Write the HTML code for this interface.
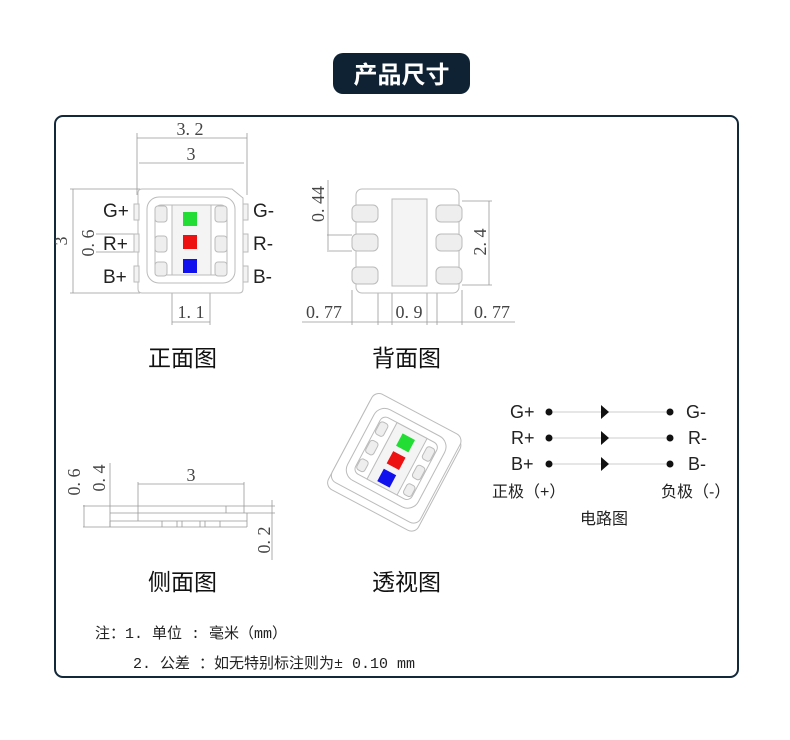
<!DOCTYPE html>
<html><head><meta charset="utf-8"><style>
body{margin:0;background:#fff;width:790px;height:740px;overflow:hidden}
svg{display:block}
.s{font-family:"Liberation Sans","Noto Sans CJK SC",sans-serif}
.m{font-family:"Liberation Serif","Noto Serif CJK SC",serif;fill:#444}
</style></head><body>
<svg width="790" height="740" viewBox="0 0 790 740" xmlns="http://www.w3.org/2000/svg">
<rect x="333" y="53" width="137" height="41" rx="10" fill="#0e2233"/>
<text x="401.5" y="83" text-anchor="middle" class="s" font-size="24" fill="#fff" font-weight="bold">产品尺寸</text>
<rect x="55" y="116" width="683" height="561" rx="8" fill="#fff" stroke="#13293a" stroke-width="2"/>

<g stroke="#999" stroke-width="0.8" fill="none">
<line x1="137" y1="138" x2="247" y2="138"/><line x1="139" y1="163" x2="244" y2="163"/>
<line x1="137" y1="133" x2="137" y2="195"/><line x1="247" y1="133" x2="247" y2="195"/>
<line x1="73" y1="189" x2="73" y2="293"/><line x1="70" y1="189" x2="140" y2="189"/><line x1="70" y1="293" x2="140" y2="293"/>
<line x1="96" y1="234" x2="140" y2="234"/><line x1="96" y1="252" x2="140" y2="252"/>
<line x1="172" y1="285" x2="172" y2="325"/><line x1="210" y1="285" x2="210" y2="325"/><line x1="172" y1="322" x2="210" y2="322"/>
</g>
<g stroke="#bbb" stroke-width="1" fill="#fff">
<path d="M138 193 Q138 189 142 189 L232 189 L243 198 L243 289 Q243 293 239 293 L142 293 Q138 293 138 289Z"/>
<rect x="147" y="197" width="88" height="86" rx="12"/>
<rect x="155" y="205" width="72" height="70" rx="6"/>
<rect x="172" y="205" width="39" height="70" fill="#f4f4f4"/>
<rect x="155" y="206" width="12" height="16" rx="3" fill="#eee"/><rect x="155" y="236" width="12" height="16" rx="3" fill="#eee"/><rect x="155" y="262" width="12" height="14" rx="3" fill="#eee"/>
<rect x="215" y="206" width="12" height="16" rx="3" fill="#eee"/><rect x="215" y="236" width="12" height="16" rx="3" fill="#eee"/><rect x="215" y="262" width="12" height="14" rx="3" fill="#eee"/>
<rect x="134" y="204" width="5" height="16" fill="#f3f3f3"/><rect x="134" y="234" width="5" height="18" fill="#f3f3f3"/><rect x="134" y="266" width="5" height="16" fill="#f3f3f3"/>
<rect x="243" y="204" width="5" height="16" fill="#f3f3f3"/><rect x="243" y="234" width="5" height="18" fill="#f3f3f3"/><rect x="243" y="266" width="5" height="16" fill="#f3f3f3"/>
</g>
<rect x="183" y="212" width="14" height="14" fill="#22dd33"/>
<rect x="183" y="235" width="14" height="14" fill="#ee1111"/>
<rect x="183" y="259" width="14" height="14" fill="#1111ee"/>
<g class="s" font-size="19" fill="#222">
<text x="103" y="217">G+</text><text x="103" y="250">R+</text><text x="103" y="283">B+</text>
<text x="253" y="217">G-</text><text x="253" y="250">R-</text><text x="253" y="283">B-</text>
</g>
<g class="m" font-size="18">
<text x="190" y="135" text-anchor="middle">3. 2</text>
<text x="191" y="160" text-anchor="middle">3</text>
<text x="191" y="318" text-anchor="middle">1. 1</text>
<text transform="translate(67,241) rotate(-90)" text-anchor="middle">3</text>
<text transform="translate(94,243) rotate(-90)" text-anchor="middle">0. 6</text>
</g>

<g stroke="#999" stroke-width="0.8" fill="none">
<line x1="327" y1="235" x2="352" y2="235"/><line x1="327" y1="251" x2="352" y2="251"/><line x1="328" y1="180" x2="328" y2="250"/>
<line x1="462" y1="201" x2="492" y2="201"/><line x1="462" y1="285" x2="492" y2="285"/><line x1="489" y1="201" x2="489" y2="285"/>
<line x1="302" y1="322" x2="515" y2="322"/>
<line x1="352" y1="290" x2="352" y2="325"/><line x1="378" y1="290" x2="378" y2="325"/>
<line x1="392" y1="290" x2="392" y2="325"/><line x1="427" y1="290" x2="427" y2="325"/>
<line x1="437" y1="290" x2="437" y2="325"/><line x1="462" y1="290" x2="462" y2="325"/>
</g>
<g stroke="#bbb" stroke-width="1" fill="#fff">
<rect x="356" y="189" width="103" height="104" rx="6"/>
<rect x="392" y="199" width="35" height="87" fill="#f4f4f4"/>
<rect x="352" y="205" width="26" height="17" rx="5" fill="#eee"/><rect x="352" y="234" width="26" height="17" rx="5" fill="#eee"/><rect x="352" y="267" width="26" height="17" rx="5" fill="#eee"/>
<rect x="436" y="205" width="26" height="17" rx="5" fill="#eee"/><rect x="436" y="234" width="26" height="17" rx="5" fill="#eee"/><rect x="436" y="267" width="26" height="17" rx="5" fill="#eee"/>
</g>
<g class="m" font-size="18">
<text x="324" y="318" text-anchor="middle">0. 77</text>
<text x="409" y="318" text-anchor="middle">0. 9</text>
<text x="492" y="318" text-anchor="middle">0. 77</text>
<text transform="translate(324,204) rotate(-90)" text-anchor="middle">0. 44</text>
<text transform="translate(486,242) rotate(-90)" text-anchor="middle">2. 4</text>
</g>

<g stroke="#999" stroke-width="0.8" fill="none">
<line x1="83" y1="506" x2="275" y2="506"/><line x1="110" y1="513" x2="275" y2="513"/>
<line x1="83" y1="527" x2="110" y2="527"/>
<line x1="110" y1="521" x2="247" y2="521"/><line x1="110" y1="527" x2="247" y2="527"/>
<line x1="110" y1="521" x2="110" y2="527"/><line x1="247" y1="513" x2="247" y2="527"/>
<line x1="226" y1="506" x2="226" y2="513"/>
<line x1="138" y1="482" x2="138" y2="521"/><line x1="244" y1="482" x2="244" y2="513"/><line x1="138" y1="484" x2="244" y2="484"/>
<line x1="84" y1="505" x2="84" y2="527"/><line x1="110" y1="463" x2="110" y2="527"/>
<line x1="272" y1="500" x2="272" y2="560"/>
<line x1="162" y1="521" x2="162" y2="527"/><line x1="177" y1="521" x2="177" y2="527"/><line x1="182" y1="521" x2="182" y2="527"/><line x1="200" y1="521" x2="200" y2="527"/><line x1="205" y1="521" x2="205" y2="527"/><line x1="220" y1="521" x2="220" y2="527"/>
</g>
<g class="m" font-size="18">
<text x="191" y="481" text-anchor="middle">3</text>
<text transform="translate(80,482) rotate(-90)" text-anchor="middle">0. 6</text>
<text transform="translate(105,478) rotate(-90)" text-anchor="middle">0. 4</text>
<text transform="translate(270,540) rotate(-90)" text-anchor="middle">0. 2</text>
</g>

<g transform="translate(397,461) rotate(28)" stroke="#bbb" stroke-width="1" fill="#fff">
<rect x="-52" y="-48" width="102" height="104" rx="8"/>
<rect x="-52" y="-52" width="100" height="100" rx="8"/>
<rect x="-42" y="-42" width="80" height="80" rx="12"/>
<rect x="-34" y="-34" width="64" height="64" rx="6"/>
<rect x="-18" y="-34" width="34" height="64" fill="#f4f4f4"/>
<rect x="-33" y="-28" width="9" height="14" rx="3" fill="#eee"/><rect x="-33" y="-7" width="9" height="14" rx="3" fill="#eee"/><rect x="-33" y="14" width="9" height="12" rx="3" fill="#eee"/>
<rect x="20" y="-28" width="9" height="14" rx="3" fill="#eee"/><rect x="20" y="-7" width="9" height="14" rx="3" fill="#eee"/><rect x="20" y="14" width="9" height="12" rx="3" fill="#eee"/>
<rect x="-8" y="-27" width="14" height="14" fill="#22dd33" stroke="none"/>
<rect x="-8" y="-7" width="14" height="14" fill="#ee1111" stroke="none"/>
<rect x="-8" y="13" width="14" height="14" fill="#1111ee" stroke="none"/>
</g>

<g stroke="#ccc" stroke-width="1"><line x1="549" y1="412" x2="670" y2="412"/><line x1="549" y1="438" x2="670" y2="438"/><line x1="549" y1="464" x2="670" y2="464"/></g>
<g fill="#111">
<circle cx="549" cy="412" r="3.5"/><circle cx="549" cy="438" r="3.5"/><circle cx="549" cy="464" r="3.5"/>
<circle cx="670" cy="412" r="3.5"/><circle cx="670" cy="438" r="3.5"/><circle cx="670" cy="464" r="3.5"/>
<path d="M601 405 L609 412 L601 419Z"/><path d="M601 431 L609 438 L601 445Z"/><path d="M601 457 L609 464 L601 471Z"/>
</g>
<g class="s" font-size="18" fill="#222">
<text x="510" y="418">G+</text><text x="511" y="444">R+</text><text x="511" y="470">B+</text>
<text x="686" y="418">G-</text><text x="688" y="444">R-</text><text x="688" y="470">B-</text>
</g>
<g class="s" font-size="16" fill="#222">
<text x="492" y="497">正极（+）</text>
<text x="661" y="497">负极（-）</text>
<text x="580" y="524">电路图</text>
</g>

<g class="s" font-size="23" fill="#111">
<text x="148" y="366">正面图</text><text x="372" y="366">背面图</text>
<text x="148" y="590">侧面图</text><text x="372" y="590">透视图</text>
</g>
<g font-family="Liberation Mono, Noto Sans CJK SC, monospace" font-size="15" fill="#222">
<text x="95" y="638">注：1. 单位 : 毫米（mm）</text>
<text x="133" y="668">2. 公差 ：如无特别标注则为± 0.10 mm</text>
</g>
</svg>
</body></html>
